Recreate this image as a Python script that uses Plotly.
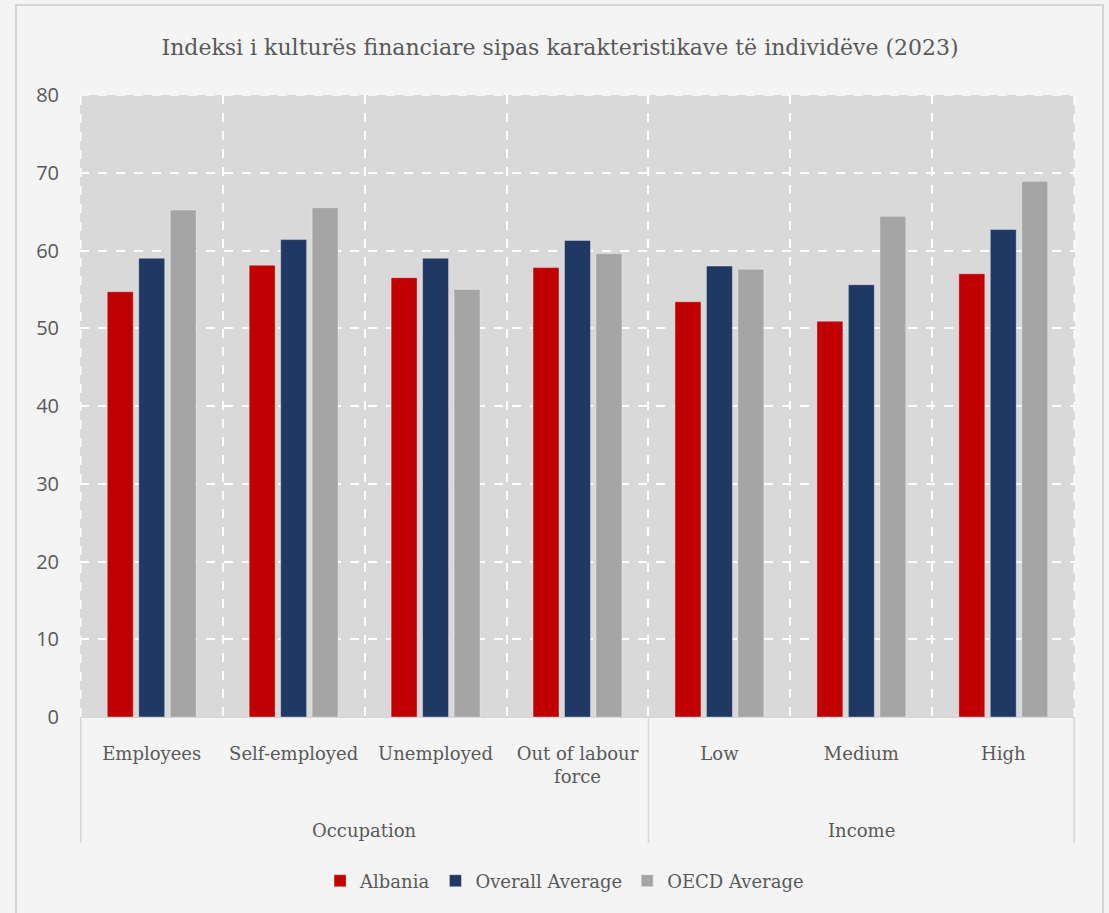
import plotly.graph_objects as go

# Financial literacy index by individual characteristics (2023)
RED   = "#C00000"
NAVY  = "#203864"
GREY  = "#A5A5A5"
TEXT  = "#595959"
PLOT  = "#D9D9D9"
PAPER = "#F4F4F4"

cats = ["Employees", "Self-employed", "Unemployed", "Out of labour<br>force",
        "Low", "Medium", "High"]
group_names = ["Occupation", "Income"]
group_sizes = [4, 3]

albania = [54.7, 58.1, 56.5, 57.8, 53.4, 50.9, 57.0]
overall = [59.0, 61.4, 59.0, 61.3, 58.0, 55.6, 62.7]
oecd    = [65.2, 65.5, 55.0, 59.6, 57.6, 64.4, 68.9]

SERIF = "'DejaVu Serif', Georgia, serif"
SANS = "'Open Sans', 'Noto Sans', sans-serif"

# plot area in pixels: x 80..1075, y 95..717
H = 622
YMAX = 80

fig = go.Figure()
for name, vals, col in [("Albania", albania, RED),
                        ("Overall Average", overall, NAVY),
                        ("OECD Average", oecd, GREY)]:
    fig.add_trace(go.Bar(
        x=cats, y=vals, name=name,
        marker=dict(color=col, line=dict(color="rgba(255,255,255,0.35)", width=1)),
    ))

# outer frame
shapes = [dict(type="rect", xref="paper", yref="paper",
               x0=-64 / 995, x1=1023 / 995, y0=-220 / H, y1=712 / H,
               line=dict(color="#D4D4D4", width=2), layer="below")]

# dashed white border on top / left / right of the plot area (plotly drops end gridlines)
dash = dict(color="white", width=1.5, dash="dash")
shapes.append(dict(type="line", xref="paper", yref="y", x0=0, x1=1, y0=YMAX, y1=YMAX,
                   line=dash, layer="between"))
shapes.append(dict(type="line", xref="x", yref="paper", x0=-0.5, x1=-0.5, y0=0, y1=1,
                   line=dash, layer="between"))
shapes.append(dict(type="line", xref="x", yref="paper", x0=len(cats) - 0.5, x1=len(cats) - 0.5,
                   y0=0, y1=1, line=dash, layer="between"))

# group dividers and labels under the category labels
annotations = []
start = 0
edges = [-0.5]
for g, n in zip(group_names, group_sizes):
    annotations.append(dict(text=g, x=start + (n - 1) / 2, xref="x",
                            y=-(830 - 717) / H, yref="paper", yanchor="middle",
                            showarrow=False, font=dict(family=SERIF, size=18, color=TEXT)))
    start += n
    edges.append(start - 0.5)
for e in edges:
    shapes.append(dict(type="line", xref="x", yref="paper", x0=e, x1=e,
                       y0=0, y1=-(843 - 717) / H,
                       line=dict(color="#D6D6D6", width=1.5)))

fig.update_layout(
    width=1109, height=913,
    barmode="group", bargap=0.335, bargroupgap=0.175,
    paper_bgcolor=PAPER, plot_bgcolor=PLOT,
    margin=dict(l=80, r=34, t=95, b=196),
    font=dict(family=SERIF, color=TEXT, size=18),
    title=dict(text="Indeksi i kulturës financiare sipas karakteristikave të individëve (2023)",
               x=0.505, xanchor="center", y=1 - 47 / 913, yanchor="middle",
               font=dict(family=SERIF, size=22, color=TEXT)),
    legend=dict(orientation="h", x=0.487, xanchor="center", y=-(881 - 717) / H, yanchor="middle",
                font=dict(family=SERIF, size=18, color=TEXT),
                bgcolor="rgba(0,0,0,0)", itemwidth=30, traceorder="normal"),
    shapes=shapes,
    annotations=annotations,
)

fig.update_xaxes(
    type="category", tickson="boundaries",
    showgrid=True, gridcolor="white", griddash="dash", gridwidth=1.5,
    showline=True, linecolor="#D6D6D6", linewidth=1,
    ticks="", ticklabelstandoff=20,
    tickfont=dict(family=SERIF, size=18, color=TEXT),
)
fig.update_yaxes(
    range=[0, YMAX], dtick=10,
    showgrid=True, gridcolor="white", griddash="dash", gridwidth=1.5,
    zeroline=False, ticks="", ticklabelstandoff=20,
    tickfont=dict(family=SANS, size=20, color=TEXT),
)

fig.write_html("out.html", config={"displayModeBar": False},
               post_script="document.body.style.margin='0';")
